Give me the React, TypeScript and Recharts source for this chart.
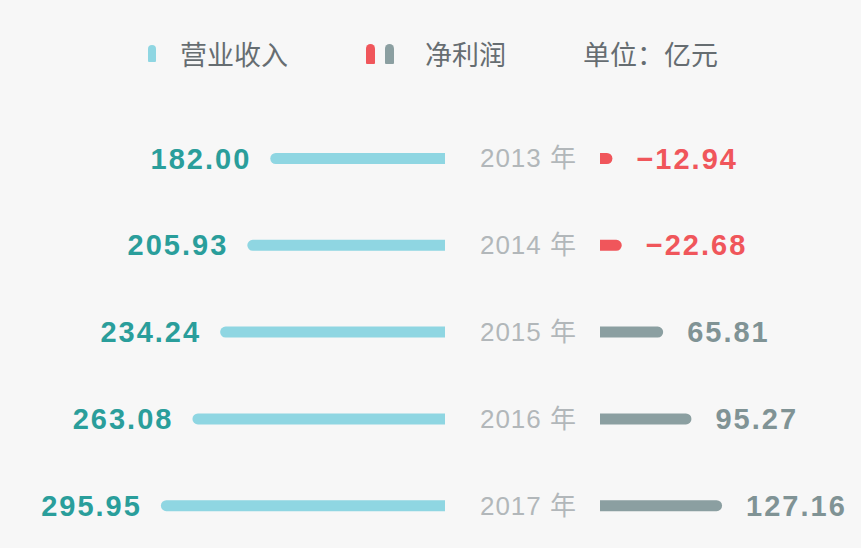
import React from "react";
import { BarChart, Bar, XAxis, YAxis, Cell, LabelList } from "recharts";

const years = ["2013 年", "2014 年", "2015 年", "2016 年", "2017 年"];
const revenue = [182.0, 205.93, 234.24, 263.08, 295.95];
const netProfit = [-12.94, -22.68, 65.81, 95.27, 127.16];

const data = years.map((year, i) => ({
  year,
  revenue: revenue[i],
  revNeg: -revenue[i],
  profit: netProfit[i],
  profitAbs: Math.abs(netProfit[i]),
}));

const FONT = "'Liberation Sans', Arial, 'Noto Sans CJK SC', sans-serif";
const CJK = "'Noto Sans CJK SC', 'Liberation Sans', sans-serif";
const REV_BAR = "#8fd6e2";
const REV_TEXT = "#2a9e9b";
const PROFIT_BAR = "#8b9fa1";
const PROFIT_TEXT = "#809395";
const RED = "#f0565b";

const LeftLabel = (props: any) => {
  const { x, y, width, height, value } = props;
  const left = Math.min(x, x + width);
  return (
    <text
      x={left - 19}
      y={y + height / 2}
      textAnchor="end"
      dominantBaseline="central"
      fill={REV_TEXT}
      fontSize={29}
      fontWeight="bold"
      fontFamily={FONT}
      letterSpacing={2}
    >
      {Number(value).toFixed(2)}
    </text>
  );
};

const RightLabel = (props: any) => {
  const { x, y, width, height, value } = props;
  const right = Math.max(x, x + width);
  const v = Number(value);
  const txt = v < 0 ? "\u2212" + Math.abs(v).toFixed(2) : v.toFixed(2);
  return (
    <text
      x={right + 24}
      y={y + height / 2}
      textAnchor="start"
      dominantBaseline="central"
      fill={v < 0 ? RED : PROFIT_TEXT}
      fontSize={29}
      fontWeight="bold"
      fontFamily={FONT}
      letterSpacing={2}
    >
      {txt}
    </text>
  );
};

const YearTick = (props: any) => {
  const { x, y, payload } = props;
  return (
    <text
      x={x}
      y={y}
      textAnchor="end"
      dominantBaseline="central"
      fill="#b2b7ba"
      fontSize={26}
      fontFamily={FONT}
      letterSpacing={1}
    >
      {payload.value}
    </text>
  );
};

const legendText: React.CSSProperties = {
  position: "absolute",
  top: 36,
  fontSize: 27,
  lineHeight: "36px",
  color: "#666d71",
  fontFamily: CJK,
  whiteSpace: "nowrap",
};

const marker = (left: number, top: number, w: number, h: number, color: string): React.CSSProperties => ({
  position: "absolute",
  left,
  top,
  width: w,
  height: h,
  background: color,
  borderRadius: `${w / 2}px ${w / 2}px 1px 1px`,
});

export default function App() {
  return (
    <div
      style={{
        position: "relative",
        width: 861,
        height: 548,
        background: "#f7f7f7",
        overflow: "hidden",
      }}
    >
      <style>{`body{margin:0}`}</style>

      <div style={marker(148, 45, 8, 17, REV_BAR)} />
      <div style={{ ...legendText, left: 180 }}>营业收入</div>
      <div style={marker(366, 44, 9, 20, RED)} />
      <div style={marker(385, 44, 9, 20, PROFIT_BAR)} />
      <div style={{ ...legendText, left: 425 }}>净利润</div>
      <div style={{ ...legendText, left: 583 }}>单位：亿元</div>

      <div style={{ position: "absolute", left: 0, top: 0 }}>
        <BarChart
          layout="vertical"
          width={460}
          height={549}
          data={data}
          margin={{ top: 115, right: 15, bottom: 0, left: 157 }}
        >
          <XAxis type="number" hide domain={[-300, 0]} />
          <YAxis type="category" dataKey="year" hide />
          <Bar
            dataKey="revNeg"
            fill={REV_BAR}
            barSize={11}
            radius={[0, 6, 6, 0]}
            isAnimationActive={false}
          >
            <LabelList dataKey="revenue" content={LeftLabel} />
          </Bar>
        </BarChart>
      </div>

      <div style={{ position: "absolute", left: 445, top: 0 }}>
        <BarChart
          layout="vertical"
          width={416}
          height={549}
          data={data}
          margin={{ top: 115, right: 21, bottom: 0, left: 0 }}
        >
          <XAxis type="number" hide domain={[0, 250]} />
          <YAxis
            type="category"
            dataKey="year"
            width={155}
            tickSize={0}
            tickMargin={23}
            axisLine={false}
            tickLine={false}
            tick={<YearTick />}
          />
          <Bar
            dataKey="profitAbs"
            barSize={11}
            radius={[0, 6, 6, 0]}
            isAnimationActive={false}
          >
            {data.map((d, i) => (
              <Cell key={i} fill={d.profit < 0 ? RED : PROFIT_BAR} />
            ))}
            <LabelList dataKey="profit" content={RightLabel} />
          </Bar>
        </BarChart>
      </div>
    </div>
  );
}
